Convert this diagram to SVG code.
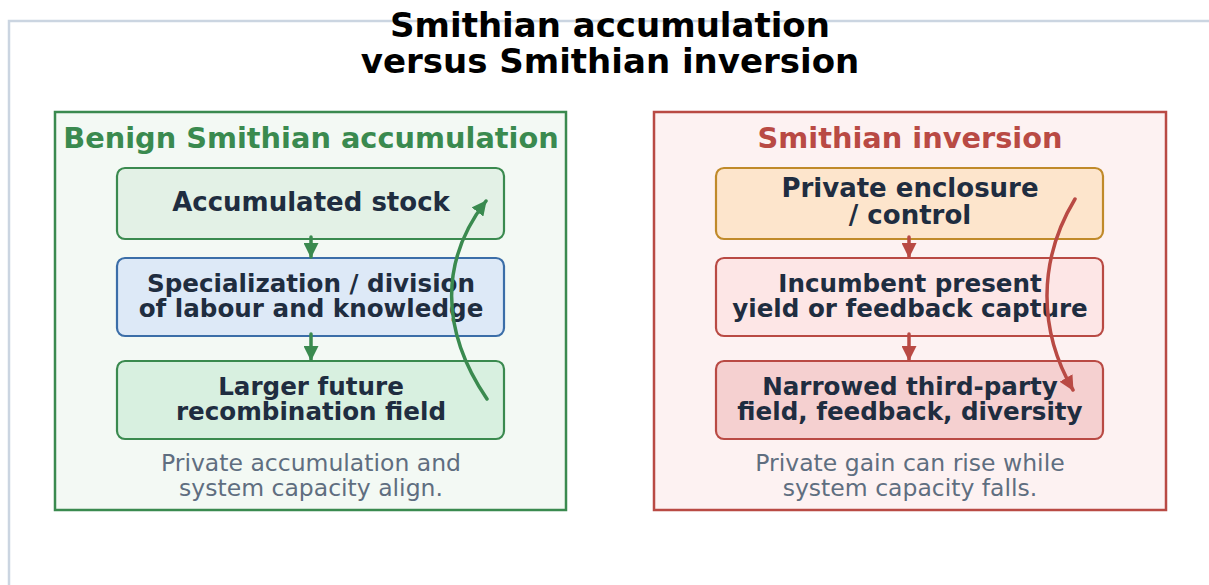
<svg xmlns="http://www.w3.org/2000/svg" width="1209" height="585" viewBox="0 0 1209 585">
<style>
.frame{fill:#ffffff;stroke:#cbd5e1;stroke-width:2.5}
.title{font-family:"DejaVu Sans",sans-serif;font-weight:bold;font-size:34px;fill:#000;text-anchor:middle}
.ptitle{font-family:"DejaVu Sans",sans-serif;font-weight:bold;font-size:28.8px;text-anchor:middle}
.ntext{font-family:"DejaVu Sans",sans-serif;font-weight:bold;font-size:24.6px;fill:#1f2d40;text-anchor:middle}
.ntop{font-size:26px}
.cap{font-family:"DejaVu Sans",sans-serif;font-size:23.5px;fill:#5f6e80;text-anchor:middle}
.node{stroke-width:2.2}
.g{stroke:#3a8a4f}
.r{stroke:#b94a44}
.conn{fill:none;stroke-width:3.5;stroke-linecap:round}
</style>
<defs>
<marker id="ag" markerUnits="userSpaceOnUse" viewBox="0 0 14 14" refX="13" refY="7" markerWidth="15" markerHeight="15" orient="auto"><path d="M0,0 L14,7 L0,14 z" fill="#3a8a4f"/></marker>
<marker id="ar" markerUnits="userSpaceOnUse" viewBox="0 0 14 14" refX="13" refY="7" markerWidth="15" markerHeight="15" orient="auto"><path d="M0,0 L14,7 L0,14 z" fill="#b94a44"/></marker>
</defs>
<rect class="frame" x="9" y="21" width="1220" height="600"/>
<g id="title">
<text class="title" x="610" y="37">Smithian accumulation</text>
<text class="title" x="610" y="73">versus Smithian inversion</text>
</g>
<g id="panel-benign">
<rect x="55" y="112" width="511" height="398" fill="#f3f9f4" stroke="#3a8a4f" stroke-width="2.5"/>
<text class="ptitle" x="311" y="148" fill="#3a8a4f">Benign Smithian accumulation</text>
<text class="cap" x="311" y="471">Private accumulation and</text>
<text class="cap" x="311" y="496">system capacity align.</text>
</g>
<g id="node-accumulated-stock">
<rect class="node g" x="117" y="168" width="387" height="71" rx="8" fill="#e3f1e6"/>
<text class="ntext ntop" x="311" y="211">Accumulated stock</text>
</g>
<g id="node-specialization">
<rect class="node" x="117" y="258" width="387" height="78" rx="8" fill="#dde9f7" stroke="#3b6ea8"/>
<text class="ntext" x="311" y="292">Specialization / division</text>
<text class="ntext" x="311" y="317">of labour and knowledge</text>
</g>
<g id="node-larger-field">
<rect class="node g" x="117" y="361" width="387" height="78" rx="8" fill="#d8f0e0"/>
<text class="ntext" x="311" y="395">Larger future</text>
<text class="ntext" x="311" y="420">recombination field</text>
</g>
<g id="panel-inversion">
<rect x="654" y="112" width="512" height="398" fill="#fdf2f2" stroke="#b94a44" stroke-width="2.5"/>
<text class="ptitle" x="910" y="148" fill="#b94a44">Smithian inversion</text>
<text class="cap" x="910" y="471">Private gain can rise while</text>
<text class="cap" x="910" y="496">system capacity falls.</text>
</g>
<g id="node-enclosure">
<rect class="node" x="716" y="168" width="387" height="71" rx="8" fill="#fde5cc" stroke="#c08a2a"/>
<text class="ntext ntop" x="910" y="197">Private enclosure</text>
<text class="ntext ntop" x="910" y="224">/ control</text>
</g>
<g id="node-incumbent">
<rect class="node r" x="716" y="258" width="387" height="78" rx="8" fill="#fde6e6"/>
<text class="ntext" x="910" y="292">Incumbent present</text>
<text class="ntext" x="910" y="317">yield or feedback capture</text>
</g>
<g id="node-narrowed">
<rect class="node r" x="716" y="361" width="387" height="78" rx="8" fill="#f5d0d0"/>
<text class="ntext" x="910" y="395">Narrowed third-party</text>
<text class="ntext" x="910" y="420">field, feedback, diversity</text>
</g>
<g id="connectors">
<path class="conn" stroke="#3a8a4f" d="M311,237 L311,257" marker-end="url(#ag)"/>
<path class="conn" stroke="#3a8a4f" d="M311,334 L311,360" marker-end="url(#ag)"/>
<path class="conn" stroke="#3a8a4f" d="M487,399 C440,330 440,260 486,201" marker-end="url(#ag)"/>
<path class="conn" stroke="#b94a44" d="M909,237 L909,257" marker-end="url(#ar)"/>
<path class="conn" stroke="#b94a44" d="M909,334 L909,360" marker-end="url(#ar)"/>
<path class="conn" stroke="#b94a44" d="M1075,199 C1038,260 1038,330 1073,390" marker-end="url(#ar)"/>
</g>
</svg>
